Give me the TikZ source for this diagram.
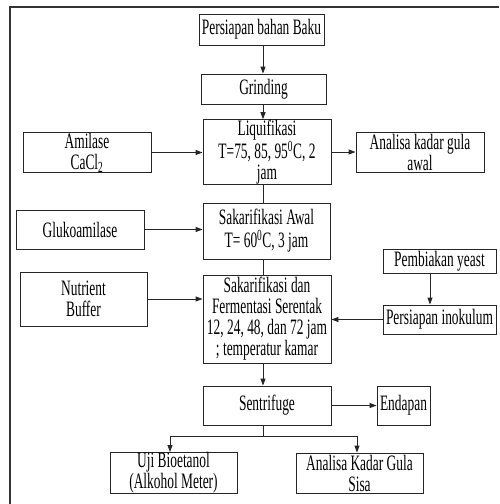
\documentclass[tikz,border=0pt]{standalone}
\usepackage{fontspec}
\setmainfont{Liberation Serif}[FakeStretch=0.61]
\usepackage{tikz}
\usetikzlibrary{arrows.meta}
\usetikzlibrary{positioning, calc}

\begin{document}
\begin{tikzpicture}[x=1pt, y=-1pt,
	box/.style={draw=black!85, line width=0.9pt, inner sep=0pt, align=center,
		font=\fontsize{22}{21}\selectfont},
	arr/.style={draw=black!85, line width=0.9pt, -{Triangle[length=7pt, width=5pt]}},
	con/.style={draw=black!85, line width=0.9pt}]

		\useasboundingbox (0,0) rectangle (499,504);

		% Outer frame (only top and left show)
		\draw[black!80, line width=1.3pt] (10,504) -- (10,7) -- (499,7);

		% Main column
		\node[box, minimum width=125pt, minimum height=31pt] (baku) at (261.5,29.5) {Persiapan bahan Baku};
		\node[box, minimum width=125pt, minimum height=30pt] (grinding) at (263.5,89) {Grinding};
		\node[box, minimum width=128pt, minimum height=60pt] (liq) at (267,152) {Liquifikasi\\T=75, 85, 95\textsuperscript{0}C, 2\\jam};
		\node[box, minimum width=127pt, minimum height=56pt] (sakawal) at (266.5,231) {Sakarifikasi Awal\\[2pt]T= 60\textsuperscript{0}C, 3 jam};
		\node[box, minimum width=128pt, minimum height=88pt] (ssf) at (267,319) {Sakarifikasi dan\\Fermentasi Serentak\\12, 24, 48, dan 72 jam\\; temperatur kamar};
		\node[box, minimum width=128pt, minimum height=39pt] (sentrifuge) at (267,405.5) {Sentrifuge};

		% Inputs on the left
		\node[box, minimum width=128pt, minimum height=39pt] (amilase) at (87,152.5) {Amilase\\CaCl\textsubscript{2}};
		\node[box, minimum width=128pt, minimum height=39pt] (gluko) at (80,229.5) {Glukoamilase};
		\node[box, minimum width=127pt, minimum height=54pt] (nutrient) at (83.5,299) {Nutrient\\Buffer};

		% Right side
		\node[box, minimum width=128pt, minimum height=40pt] (awal) at (420,152) {Analisa kadar gula\\awal};
		\node[box, minimum width=113pt, minimum height=24pt] (yeast) at (439.5,261) {Pembiakan yeast};
		\node[box, minimum width=113pt, minimum height=29pt] (inokulum) at (439.5,319.5) {Persiapan inokulum};
		\node[box, minimum width=53pt, minimum height=39pt] (endapan) at (403.5,405.5) {Endapan};

		% Outputs
		\node[box, minimum width=127pt, minimum height=40pt] (uji) at (173.5,473) {Uji Bioetanol\\(Alkohol Meter)};
		\node[box, minimum width=127pt, minimum height=40pt] (sisa) at (359.5,473) {Analisa Kadar Gula\\Sisa};

		% Spine and split point
		\coordinate (spine) at (263,0);
		\coordinate (split) at (263,436);

		% Connectors down the middle
		\draw[arr] (spine |- baku.south) -- (spine |- grinding.north);
		\draw[arr] (spine |- grinding.south) -- (spine |- liq.north);
		\draw[con] (spine |- liq.south) -- (spine |- sakawal.north);
		\draw[con] (spine |- sakawal.south) -- (spine |- ssf.north);
		\draw[arr] (spine |- ssf.south) -- (spine |- sentrifuge.north);

		% Side connectors
		\draw[arr] (amilase.east) -- (amilase.east -| liq.west);
		\draw[arr] (liq.east |- awal.west) -- (awal.west);
		\draw[arr] (gluko.east) -- (gluko.east -| sakawal.west);
		\draw[arr] (nutrient.east) -- (nutrient.east -| ssf.west);
		\draw[arr] ([xshift=-9.5pt]yeast.south) -- ([xshift=-9.5pt]inokulum.north);
		\draw[arr] (inokulum.west) -- (inokulum.west -| ssf.east);
		\draw[arr] (sentrifuge.east) -- (endapan.west);

		% Branch to the outputs
		\draw[con] (spine |- sentrifuge.south) -- (split);
		\draw[arr] (split) -| ([xshift=-3.5pt]uji.north);
		\draw[arr] (split) -| ([xshift=-2.5pt]sisa.north);

	\end{tikzpicture}
\end{document}
